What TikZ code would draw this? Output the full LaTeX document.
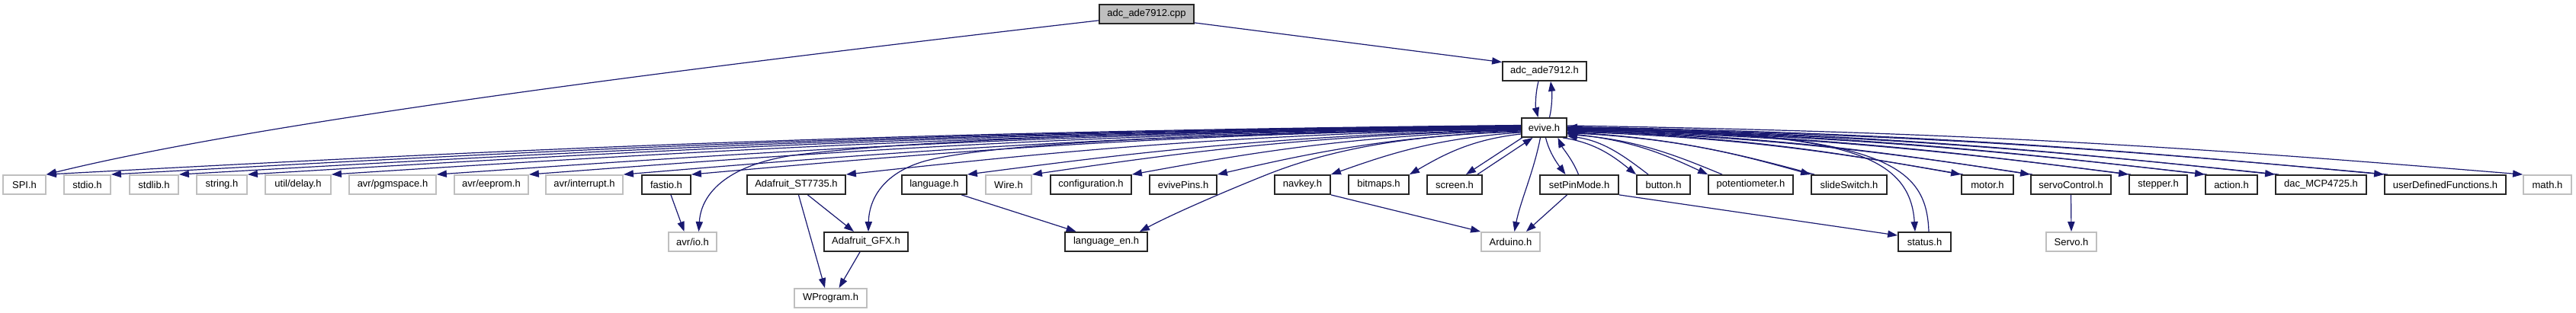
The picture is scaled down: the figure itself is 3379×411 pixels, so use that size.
\documentclass[tikz,border=0pt]{standalone}
\usepackage{fontspec}
\newfontfamily\nodefont{Liberation Sans}
\usetikzlibrary{arrows.meta,calc}
\definecolor{edgec}{RGB}{25,25,112}
\definecolor{greyb}{RGB}{191,191,191}
\pgfdeclarelayer{bg}
\pgfsetlayers{bg,main}
\tikzset{
  box/.style={draw=black!85, line width=0.9pt, fill=white, minimum height=12.5pt, inner sep=0pt, font={\nodefont\fontsize{6.5pt}{7.8pt}\selectfont}},
  gbox/.style={box, draw=greyb},
  rootbox/.style={box, fill=greyb},
  edge/.style={draw=edgec, line width=0.6pt, -{Triangle[length=6.5pt,width=4.6pt]}},
}
\newcommand\ecurve[3][]{\draw[edge,#1] let \p1=(#2), \p2=(#3) in (\p1) .. controls ({\x1+0.45*(\x2-\x1)},{\y1+0.135*(\y2-\y1)}) and ({\x2+0.3*(\x1-\x2)},{\y2+0.48*(\y1-\y2)}) .. (\p2);}
\newcommand\bcurve[3][]{\draw[edge,#1] let \p1=(#2), \p2=(#3) in (\p1) .. controls ({\x1+0.3*(\x2-\x1)},{\y1+0.48*(\y2-\y1)}) and ({\x2+0.45*(\x1-\x2)},{\y2+0.135*(\y1-\y2)}) .. (\p2);}
\begin{document}
\begin{tikzpicture}[x=0.5pt,y=-0.5pt]
\useasboundingbox (0,0) rectangle (3379,411);
% row 0
\node[rootbox, minimum width=62pt] (cpp) at (1504,18.5) {adc\_ade7912.cpp};
\node[box, minimum width=55pt] (adch) at (2026,93.5) {adc\_ade7912.h};
\node[box, minimum width=29.5pt] (evive) at (2025.5,167.5) {evive.h};
% row 1
\node[gbox, minimum width=28pt] (spi) at (32,242.5) {SPI.h};
\node[gbox, minimum width=30.5pt] (stdio) at (114.5,242.5) {stdio.h};
\node[gbox, minimum width=32pt] (stdlib) at (202,242.5) {stdlib.h};
\node[gbox, minimum width=33pt] (string) at (291,242.5) {string.h};
\node[gbox, minimum width=43pt] (delay) at (391,242.5) {util/delay.h};
\node[gbox, minimum width=57pt] (pgmspace) at (515,242.5) {avr/pgmspace.h};
\node[gbox, minimum width=48.5pt] (eeprom) at (644.5,242.5) {avr/eeprom.h};
\node[gbox, minimum width=50.5pt] (interrupt) at (766.5,242.5) {avr/interrupt.h};
\node[box, minimum width=32pt] (fastio) at (874,242.5) {fastio.h};
\node[box, minimum width=64.5pt] (st7735) at (1044.5,242.5) {Adafruit\_ST7735.h};
\node[box, minimum width=42.5pt] (language) at (1225.5,242.5) {language.h};
\node[gbox, minimum width=30pt] (wire) at (1323,242.5) {Wire.h};
\node[box, minimum width=53pt] (config) at (1431,242.5) {configuration.h};
\node[box, minimum width=44pt] (evivepins) at (1552,242.5) {evivePins.h};
\node[box, minimum width=36.5pt] (navkey) at (1708.5,242.5) {navkey.h};
\node[box, minimum width=39.5pt] (bitmaps) at (1808.5,242.5) {bitmaps.h};
\node[box, minimum width=36pt] (screen) at (1908,242.5) {screen.h};
\node[box, minimum width=51.5pt] (setpin) at (2071.5,242.5) {setPinMode.h};
\node[box, minimum width=35pt] (button) at (2182,242.5) {button.h};
\node[box, minimum width=55.5pt] (potentiometer) at (2296.5,242.5) {potentiometer.h};
\node[box, minimum width=49.5pt] (slideswitch) at (2425.5,242.5) {slideSwitch.h};
\node[box, minimum width=34pt] (motor) at (2607,242.5) {motor.h};
\node[box, minimum width=52.5pt] (servoctl) at (2716.5,242.5) {servoControl.h};
\node[box, minimum width=38pt] (stepper) at (2831,242.5) {stepper.h};
\node[box, minimum width=34pt] (action) at (2927,242.5) {action.h};
\node[box, minimum width=59.5pt] (dac) at (3044.5,242.5) {dac\_MCP4725.h};
\node[box, minimum width=79.5pt] (userdef) at (3207.5,242.5) {userDefinedFunctions.h};
\node[gbox, minimum width=31.5pt] (math) at (3341.5,242.5) {math.h};
% row 2
\node[gbox, minimum width=31.5pt] (avrio) at (908.5,317.5) {avr/io.h};
\node[box, minimum width=55pt] (gfx) at (1136,317.5) {Adafruit\_GFX.h};
\node[box, minimum width=54pt] (langen) at (1451,317.5) {language\_en.h};
\node[gbox, minimum width=38.5pt] (arduino) at (1981.5,317.5) {Arduino.h};
\node[box, minimum width=34.5pt] (status) at (2524.5,317.5) {status.h};
\node[gbox, minimum width=33pt] (servo) at (2717,317.5) {Servo.h};
% row 3
\node[gbox, minimum width=47.5pt] (wprogram) at (1089.5,391.5) {WProgram.h};

\begin{pgfonlayer}{bg}
% top
\draw[edge] ($(cpp.south east)+(0,-2)$) -- ($(adch.north west)+(0,1.5)$);
\draw[edge] ($(cpp.south west)+(0,-5)$) .. controls (982,80) and (362,155) .. (spi.north east);
\draw[edge] ($(adch.south)+(-8,0)$) .. controls (2014,122) and (2014,140) .. ($(evive.north)+(-8,0)$);
\draw[edge] ($(evive.north)+(7,0)$) .. controls (2036,140) and (2036,122) .. ($(adch.south)+(8,0)$);
% evive to the left
\ecurve{$(evive.west)+(0,-3)$}{spi.north east}
\ecurve{$(evive.west)+(0,-2.5)$}{stdio.north east}
\ecurve{$(evive.west)+(0,-2)$}{stdlib.north east}
\ecurve{$(evive.west)+(0,-1.5)$}{string.north east}
\ecurve{$(evive.west)+(0,-1)$}{delay.north east}
\ecurve{$(evive.west)+(0,-0.5)$}{pgmspace.north east}
\ecurve{$(evive.west)+(0,0)$}{eeprom.north east}
\ecurve{$(evive.west)+(0,0.5)$}{interrupt.north east}
\ecurve{$(evive.west)+(0,1)$}{fastio.north east}
\ecurve{$(evive.west)+(0,1.5)$}{st7735.north east}
\ecurve{$(evive.west)+(0,2.5)$}{language.north east}
\ecurve{$(evive.west)+(0,3)$}{wire.north east}
\ecurve{$(evive.west)+(0,3.5)$}{config.north east}
\ecurve{$(evive.west)+(0,4.5)$}{evivepins.north east}
\ecurve{$(evive.west)+(0,6.5)$}{navkey.north east}
\ecurve{$(evive.west)+(0,8.5)$}{bitmaps.north east}
\draw[edge] ($(evive.west)+(0,1.2)$) .. controls (1400,172) and (1150,190) .. (1040,204) .. controls (960,216) and (920,250) .. ($(avrio.north)+(8,0)$);
\draw[edge] ($(evive.west)+(0,2)$) .. controls (1500,176) and (1290,192) .. (1215,211) .. controls (1160,226) and (1140,260) .. ($(gfx.north)+(3,0)$);
\draw[edge] ($(evive.west)+(0,5.5)$) .. controls (1840,177) and (1740,198) .. (1660,230) .. controls (1610,250) and (1540,280) .. ($(langen.north east)+(-11,0)$);
\draw[edge] ($(evive.south west)+(3,-1)$) -- ($(screen.north east)+(-22,0)$);
\draw[edge] ($(screen.north east)+(-7,0)$) -- ($(evive.south)+(-15,0)$);
% evive to the right
\ecurve{$(evive.east)+(0,-2.5)$}{math.north west}
\ecurve{$(evive.east)+(0,-1)$}{userdef.north west}
\ecurve{$(evive.east)+(0,0)$}{dac.north west}
\ecurve{$(evive.east)+(0,1)$}{action.north west}
\ecurve{$(evive.east)+(0,2)$}{stepper.north west}
\ecurve{$(evive.east)+(0,3)$}{servoctl.north west}
\ecurve{$(evive.east)+(0,4)$}{motor.north west}
\ecurve{$(evive.east)+(0,6)$}{slideswitch.north west}
\ecurve{$(evive.east)+(0,8)$}{potentiometer.north west}
\ecurve{$(evive.south east)+(-6,0)$}{button.north west}
\bcurve{$(userdef.north west)+(5,0)$}{$(evive.east)+(0,0.5)$}
\bcurve{$(dac.north west)+(5,0)$}{$(evive.east)+(0,1.5)$}
\bcurve{$(action.north west)+(3,0)$}{$(evive.east)+(0,2.5)$}
\bcurve{$(stepper.north west)+(3,0)$}{$(evive.east)+(0,3.5)$}
\bcurve{$(servoctl.north west)+(3,0)$}{$(evive.east)+(0,4.5)$}
\bcurve{$(motor.north west)+(3,0)$}{$(evive.east)+(0,5.5)$}
\bcurve{$(slideswitch.north west)+(5,0)$}{$(evive.east)+(0,7)$}
\bcurve{$(potentiometer.north west)+(19,0)$}{$(evive.east)+(0,9)$}
\bcurve{$(button.north west)+(16,0)$}{$(evive.east)+(0,11)$}
\draw[edge] ($(evive.south)+(2,0)$) .. controls (2032,200) and (2043,215) .. ($(setpin.north)+(-18,0)$);
\draw[edge] ($(setpin.north)+(-1,0)$) .. controls (2063,210) and (2050,195) .. ($(evive.south)+(18,0)$);
\draw[edge] ($(evive.east)+(0,3.5)$) .. controls (2400,172) and (2505,195) .. ($(status.north)+(-12.5,0)$);
\draw[edge] ($(status.north)+(5.5,0)$) .. controls (2527,215) and (2470,174) .. ($(evive.east)+(0,-0.5)$);
% lower edges
\draw[edge] ($(evive.south)+(-5,0)$) .. controls (2012,225) and (1994,265) .. ($(arduino.north)+(5,0)$);
\draw[edge] ($(setpin.south)+(-16,0)$) -- ($(arduino.north east)+(-19,0)$);
\draw[edge] (navkey.south east) -- (arduino.north west);
\draw[edge] (setpin.south east) -- ($(status.north west)+(0,5)$);
\draw[edge] (servoctl.south) -- (servo.north);
\draw[edge] ($(fastio.south)+(6,0)$) -- ($(avrio.north)+(-11,0)$);
\draw[edge] ($(st7735.south)+(15,0)$) -- ($(gfx.north)+(-16,0)$);
\draw[edge] ($(st7735.south)+(3,0)$) -- ($(wprogram.north)+(-7.5,0)$);
\draw[edge] ($(gfx.south)+(-8,0)$) -- ($(wprogram.north)+(11,0)$);
\draw[edge] ($(language.south east)+(-7.6,0)$) -- ($(langen.north west)+(15.5,0)$);
\end{pgfonlayer}
\end{tikzpicture}
\end{document}
